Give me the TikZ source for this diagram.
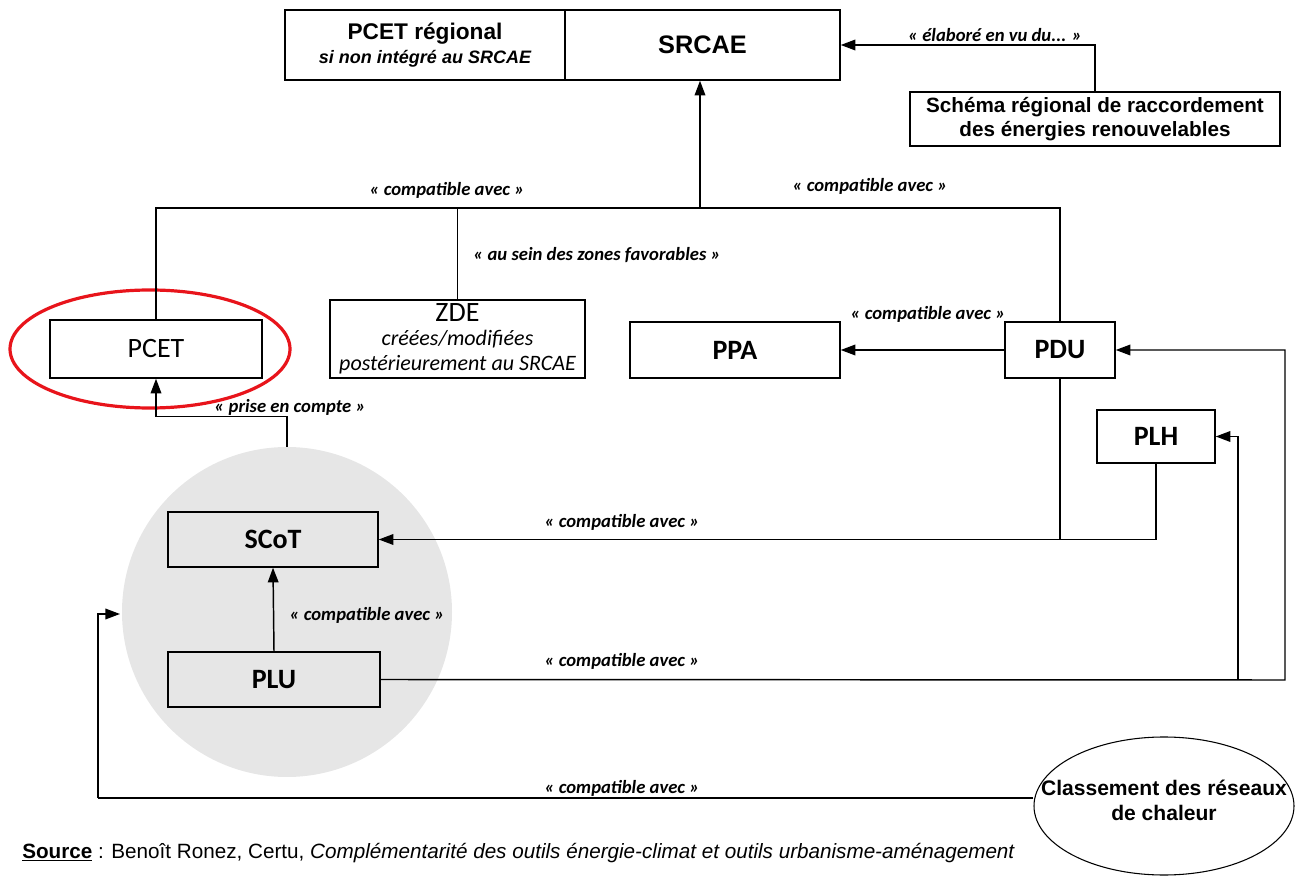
\documentclass[tikz,border=0pt]{standalone}
\usepackage{fontspec}
\setmainfont{Liberation Sans}
\newfontfamily\carlitofont{Carlito}
\usetikzlibrary{arrows.meta,shapes.geometric}
\definecolor{circgray}{RGB}{230,230,230}
\definecolor{redring}{RGB}{232,20,27}
\tikzset{
  box/.style={draw,line width=1.1pt,rectangle,inner sep=0pt,align=center,font=\carlitofont\fontsize{21}{23}\selectfont},
  bbox/.style={box,font=\carlitofont\bfseries\fontsize{21}{23}\selectfont},
  lab/.style={font=\carlitofont\bfseries\itshape\fontsize{14}{16}\selectfont,inner sep=0pt},
  con/.style={line width=1.1pt},
  arr/.style={line width=1.1pt,-{Triangle[length=11pt,width=8pt]}},
}
\begin{document}
\begin{tikzpicture}[x=0.75pt,y=-0.75pt]
\useasboundingbox (0,0) rectangle (1300,880);
% gray circle
\node[circle,fill=circgray,minimum size=247.5pt,inner sep=0pt] (circ) at (287,612) {};
% top box
\node[box,minimum width=210pt,minimum height=52.5pt,font=\fontsize{17}{19}\selectfont] (PCETreg) at (425,45)
  {\textbf{PCET régional}\\[-1pt]{\fontsize{13.5}{15}\selectfont\bfseries\itshape si non intégré au SRCAE}};
\node[box,minimum width=206.25pt,minimum height=52.5pt,font=\bfseries\fontsize{19}{21}\selectfont] (SRCAE) at (702.5,45) {SRCAE};
\node[box,minimum width=277.5pt,minimum height=40.5pt,font=\bfseries\fontsize{15.5}{17.5}\selectfont] (Schema) at (1095,119)
  {Schéma régional de raccordement\\des énergies renouvelables};
% second row
\node[box,minimum width=159pt,minimum height=43.5pt] (PCET) at (156,349) {PCET};
\node[draw=redring,line width=2.4pt,ellipse,minimum width=210pt,minimum height=88.5pt,inner sep=0pt] (ring) at (150,349) {};
\node[box,minimum width=191.25pt,minimum height=58.5pt] (ZDE) at (457.5,339)
  {ZDE\\[-5pt]{\fontsize{16.5}{18}\selectfont\itshape créées/modifiées}\\[-4pt]{\fontsize{16.5}{18}\selectfont\itshape postérieurement au SRCAE}};
\node[bbox,minimum width=157.5pt,minimum height=42pt] (PPA) at (735,350) {PPA};
\node[bbox,minimum width=82.5pt,minimum height=42pt] (PDU) at (1060,350) {PDU};
\node[bbox,minimum width=88.5pt,minimum height=39.75pt] (PLH) at (1156,436.5) {PLH};
\node[bbox,minimum width=157.5pt,minimum height=41.25pt] (SCoT) at (273,539.5) {SCoT};
\node[bbox,minimum width=159pt,minimum height=41.25pt] (PLU) at (274,679.5) {PLU};
\node[draw,line width=0.8pt,ellipse,minimum width=195pt,minimum height=103.5pt,inner sep=0pt,
  label={[align=center,font=\bfseries\fontsize{15.8}{18.5}\selectfont,inner sep=0pt,yshift=4pt]center:Classement des réseaux\\de chaleur}] (Cl) at (1164,806) {};
% junction coordinates
\coordinate (jS) at (700,208);
\coordinate (jR) at (1060,208);
\coordinate (jZ) at (457.5,208);
\coordinate (cR) at (1285,680);
\coordinate (cH) at (1238,680);
\coordinate (cL) at (98,798);
\coordinate (cT) at (120,614);
% connectors
\draw[arr] (Schema.north) |- (SRCAE.east);
\draw[con] (PCET.north) |- (jR) -- (PDU.north);
\draw[con] (jZ) -- (ZDE.north);
\draw[arr] (jS) -- (jS |- SRCAE.south);
\draw[arr] (PDU.west) -- (PPA.east);
\draw[con] (PDU.south) -- (PDU.south |- SCoT.east);
\draw[arr] (PLH.south) |- (SCoT.east);
\draw[arr] (PLU.north) -- (SCoT.south);
\draw[arr] (circ.north) -- ++(0,-30) -| (PCET.south);
\draw[arr] (PLU.east) -- (cR) |- (PDU.east);
\draw[arr] (cH) |- (PLH.east);
\draw[con] (Cl.west |- cL) -- (cL);
\draw[arr] (cL) |- (cT);
% labels
\node[lab] (l1) at (995,35) {« élaboré en vu du... »};
\node[lab] (l2) at (447,190) {« compatible avec »};
\node[lab] (l3) at (870,186) {« compatible avec »};
\node[lab] (l4) at (597,255) {« au sein des zones favorables »};
\node[lab] (l5) at (928,314) {« compatible avec »};
\node[lab] (l6) at (290,407) {« prise en compte »};
\node[lab] (l7) at (622,522) {« compatible avec »};
\node[lab] (l8) at (367,615) {« compatible avec »};
\node[lab] (l9) at (622,661) {« compatible avec »};
\node[lab] (l10) at (622,788) {« compatible avec »};
% source
\node[anchor=west,inner sep=0pt,font=\fontsize{15.5}{17}\selectfont] (src) at (22,853)
  {\underline{\textbf{Source}} : Benoît Ronez, Certu, \textit{Complémentarité des outils énergie-climat et outils urbanisme-aménagement}};
\end{tikzpicture}
\end{document}
